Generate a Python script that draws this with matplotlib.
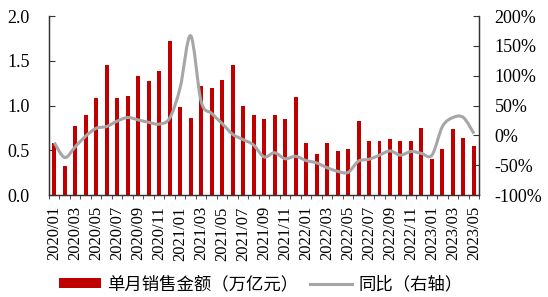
import matplotlib
matplotlib.use("Agg")
import matplotlib.pyplot as plt
import numpy as np
from matplotlib.path import Path
from matplotlib.patches import PathPatch
from matplotlib.lines import Line2D
from matplotlib.patches import Patch

months = [f"{y}/{m:02d}" for y in range(2020, 2024) for m in range(1, 13)][:41]
sales = [0.58, 0.32, 0.77, 0.90, 1.09, 1.45, 1.08, 1.11, 1.33, 1.28, 1.39, 1.72,
         0.985, 0.86, 1.22, 1.20, 1.29, 1.45, 1.00, 0.895, 0.85, 0.895, 0.846, 1.10,
         0.58, 0.46, 0.58, 0.49, 0.52, 0.83, 0.60, 0.60, 0.625, 0.61, 0.61, 0.75,
         0.40, 0.52, 0.74, 0.64, 0.55]
yoy = [-12, -37, -19, -1, 12, 15, 24, 30, 26, 22, 19, 29,
       80, 167, 57, 37, 20, 2, -7, -16, -36, -29, -39, -35,
       -42, -46, -54, -60, -62, -43, -40, -33, -26, -33, -27, -30,
       -33, 15, 30, 30, 3]

plt.rcParams['font.family'] = ['Liberation Serif', 'Noto Sans CJK SC']

fig = plt.figure(figsize=(5.48, 2.97), dpi=100)
ax = fig.add_axes([0.0894, 0.343, 0.785, 0.603])
ax2 = ax.twinx()

x = np.arange(len(months))
ax.bar(x, sales, width=0.38, color='#C00000', zorder=2)

# smooth line via Catmull-Rom -> cubic Bezier
xs = x.astype(float)
ys = np.array(yoy, dtype=float)
verts = [(xs[0], ys[0])]
codes = [Path.MOVETO]
n = len(xs)
for i in range(n - 1):
    p0 = (xs[max(i - 1, 0)], ys[max(i - 1, 0)])
    p1 = (xs[i], ys[i])
    p2 = (xs[i + 1], ys[i + 1])
    p3 = (xs[min(i + 2, n - 1)], ys[min(i + 2, n - 1)])
    t = 1 / 6
    c1 = (p1[0] + (p2[0] - p0[0]) * t, p1[1] + (p2[1] - p0[1]) * t)
    c2 = (p2[0] - (p3[0] - p1[0]) * t, p2[1] - (p3[1] - p1[1]) * t)
    verts += [c1, c2, p2]
    codes += [Path.CURVE4] * 3
path = Path(verts, codes)
ax2.add_patch(PathPatch(path, facecolor='none', edgecolor='#A6A6A6', lw=2.2,
                        zorder=3, transform=ax2.transData))

ax.set_xlim(-0.5, len(months) - 0.5)
ax.set_ylim(0, 2.0)
ax.set_yticks([0, 0.5, 1.0, 1.5, 2.0])
ax.set_yticklabels(['0.0', '0.5', '1.0', '1.5', '2.0'])
ax2.set_ylim(-100, 200)
ax2.set_yticks([-100, -50, 0, 50, 100, 150, 200])
ax2.set_yticklabels([f"{v}%" for v in [-100, -50, 0, 50, 100, 150, 200]])

ax.set_xticks(x[::2])
ax.set_xticklabels(months[::2], rotation=90)
ax.set_xticks(np.arange(-0.5, len(months), 1), minor=True)
ax.tick_params(axis='x', which='major', length=0, pad=8, labelsize=12)
ax.tick_params(axis='x', which='minor', length=3, direction='out', color='#333333')
ax.tick_params(axis='y', direction='in', length=4, labelsize=13, pad=14, color='#333333')
ax2.tick_params(axis='y', direction='in', length=4, labelsize=13, pad=11, color='#333333')

for a in (ax, ax2):
    a.spines['top'].set_visible(False)
    for s in ('left', 'right', 'bottom'):
        a.spines[s].set_color('#333333')
        a.spines[s].set_linewidth(0.9)

handles = [Patch(facecolor='#C00000', edgecolor='none'),
           Line2D([], [], color='#A6A6A6', lw=2.2)]
labels = ['单月销售金额（万亿元）', '同比（右轴）']
fig.legend(handles, labels, loc='center', bbox_to_anchor=(0.476, 0.042), ncol=2,
           frameon=False, prop={'family': ['Noto Sans CJK SC'], 'size': 12.5},
           handlelength=2.4, handleheight=0.5, columnspacing=0.7, handletextpad=0.35)

fig.savefig('out.png', dpi=100)
